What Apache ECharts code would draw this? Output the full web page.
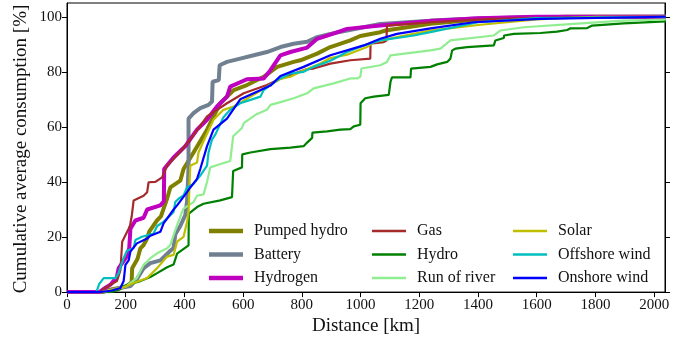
<!DOCTYPE html>
<html lang="en">
<head>
    <meta charset="UTF-8">
    <title>Cumulative average consumption</title>
    <script src="https://cdn.jsdelivr.net/npm/echarts@6/dist/echarts.min.js"></script>
    <style>
        html, body { margin: 0; padding: 0; background: #fff; }
        #main { width: 692px; height: 341px; }
    </style>
</head>
<body>
<div id="main"></div>
<script>
    // series names, in legend order (column by column)
    var names = ['Pumped hydro', 'Battery', 'Hydrogen', 'Gas', 'Hydro', 'Run of river', 'Solar', 'Offshore wind', 'Onshore wind'];

    // [distance km, cumulative %]
    var pumpedHydro = [[0,0],[120,0],[150,1],[200,2],[220,3.5],[222,8.7],[240,12],[250,15.9],[261,17.1],[273,19.5],[280,22],[307,26.1],[320,27.5],[341,34],[352,38],[386,40.5],[397,44.7],[431,50.7],[477,59],[522,68.6],[568,73.4],[613,75.2],[670,78.2],[716,81.8],[772,83.6],[795,84.2],[852,86.6],[897,89],[965,91.4],[999,93],[1067,94.4],[1085,95],[1238,97.5],[1400,99],[1700,100],[2040,100]];
    var battery = [[0,0],[110,0],[148,0.6],[180,1.5],[216,2.2],[240,5],[261,8.7],[284,10.5],[318,11.5],[352,15],[363,16],[369,21],[386,24],[403,28],[409,33],[414,45],[414,63],[431,65],[454,66.8],[482,68],[494,69.2],[496,76.4],[517,77],[520,82.4],[545,83.6],[590,84.8],[636,86],[681,87.2],[727,89],[772,90.2],[818,90.9],[852,92.6],[897,93.8],[954,95],[1067,97.4],[1238,98.6],[1400,99.4],[1600,99.9],[2040,100]];
    var hydrogen = [[0,0],[110,0],[130,1.5],[148,2.7],[170,5.5],[176,8.7],[204,13],[212,16],[216,23],[233,26],[261,27],[273,30],[318,31.5],[330,33],[331,44.7],[363,48.9],[403,53],[443,59],[477,62.6],[511,67.4],[545,71],[556,74.6],[613,77.3],[670,77.6],[693,80.6],[727,86],[761,87.2],[818,88.8],[852,92],[897,93.5],[954,95.6],[1067,96.8],[1238,98.5],[1400,99.5],[1600,100],[2040,100]];
    var gas = [[0,0],[110,0],[130,1.5],[148,2.7],[170,4],[182,8],[187,8.5],[188,18.3],[210,23],[215,24.3],[221,28],[227,33.3],[261,35],[273,36.3],[278,39.9],[301,40],[324,41.7],[341,45.9],[386,51],[420,55.4],[477,63.8],[545,68.6],[602,72.2],[681,75.2],[727,77.5],[761,78.8],[818,81],[840,81.2],[897,83],[965,84.2],[1033,84.8],[1034,90.2],[1079,90.8],[1088,91.4],[1090,96.8],[1238,98],[1442,99.2],[1700,99.8],[2040,100]];
    var hydro = [[0,0],[150,0],[180,1],[193,2.2],[250,4],[284,5.5],[307,6.9],[341,9],[363,10],[375,14],[414,17],[415,28.5],[443,30.9],[465,32.1],[522,33.3],[562,34.5],[566,44],[596,45.3],[597,50],[625,50.7],[693,51.9],[761,52.5],[806,53],[818,54.3],[835,56],[836,57.9],[886,58.4],[931,59],[965,59.2],[977,60.2],[999,60.8],[1000,68.6],[1016,70.4],[1045,71],[1096,71.6],[1102,76.4],[1107,78],[1170,78],[1172,81.2],[1238,81.8],[1261,82.7],[1295,83.6],[1306,84.8],[1312,87.8],[1323,88.4],[1363,89],[1368,89.3],[1454,89.6],[1459,91.4],[1488,92.3],[1489,93.2],[1522,93.8],[1613,94.1],[1669,94.6],[1704,95.2],[1715,95.8],[1772,95.9],[1789,96.8],[1896,97.6],[2040,98.3]];
    var runOfRiver = [[0,0],[120,0],[160,1],[200,2],[238,5.1],[261,9.9],[284,12.3],[307,14.1],[341,15.9],[352,17.1],[363,20.7],[375,24.3],[392,29.1],[397,30.3],[431,32.7],[443,35],[465,35.5],[477,40],[488,45.3],[523,46.5],[556,47.6],[562,48.3],[566,56.6],[596,59.6],[602,61.4],[642,64.4],[681,66.2],[693,68],[727,69],[772,70.4],[818,72.2],[840,74],[908,75.8],[965,77.6],[988,77.6],[999,78.2],[1003,81.2],[1067,82.4],[1090,83.6],[1102,86],[1238,87.8],[1272,88.4],[1306,91.4],[1454,93.2],[1476,95],[1556,96.2],[1726,97.4],[1896,98.6],[2040,99]];
    var solar = [[0,0],[120,0],[160,1],[200,2],[227,3.3],[273,5.1],[307,8.7],[341,12.9],[363,13.5],[375,18.3],[397,20.1],[409,25.5],[414,29],[418,41],[420,45.9],[443,47.1],[448,50.7],[465,54.8],[499,62.6],[533,66.2],[568,67.4],[625,71],[681,74.6],[727,77.4],[761,78.2],[795,80],[863,83],[897,85],[954,86.2],[1022,89],[1045,90.8],[1124,92.6],[1238,95],[1400,97],[1600,99],[1800,100],[2040,100]];
    var offshoreWind = [[0,0],[100,0],[110,3],[125,5.1],[165,5.1],[176,6.9],[182,9],[193,12.3],[204,15],[227,16],[233,18.9],[255,20.1],[295,21.3],[307,24],[329,25.5],[352,27.9],[363,29.1],[369,32.7],[380,33.9],[397,35.1],[409,38],[431,39.3],[454,42.3],[477,45.9],[482,50.7],[494,55.4],[505,57.2],[533,63.5],[556,66.2],[590,68.6],[625,69.8],[659,71],[670,73.4],[716,77],[761,79.4],[806,80],[840,81.8],[897,84],[954,87.2],[1011,89.6],[1067,91.4],[1181,93.2],[1238,94.4],[1400,98],[1600,99.5],[2040,100]];
    var onshoreWind = [[0,0],[110,0],[150,0.5],[182,1.5],[193,4],[199,9.9],[210,11.5],[216,14.7],[238,17.7],[273,19.5],[284,20.5],[318,21.9],[329,25],[341,26.7],[363,30],[375,31.5],[409,36.3],[420,38],[443,41.1],[454,44.7],[477,53],[499,59],[545,63],[590,70],[647,72.8],[693,75],[727,78.5],[806,81.8],[897,86],[1011,89.6],[1067,92],[1124,93.8],[1238,95.8],[1385,98],[1613,99.2],[2040,100]];

    var xTicks = [0, 200, 400, 600, 800, 1000, 1200, 1400, 1600, 1800, 2000];
    var yTicks = [0, 20, 40, 60, 80, 100];

    var seriesData = [pumpedHydro, battery, hydrogen, gas, hydro, runOfRiver, solar, offshoreWind, onshoreWind];
    var colors = ['#808000', '#708090', '#bf00bf', '#a52a2a', '#008000', '#90ee90', '#bfbf00', '#00bfbf', '#0000ff'];
    var widths = [4, 4, 4, 2.2, 2.2, 2.2, 2.2, 2.2, 2.2];

    var font = "'Liberation Serif', 'DejaVu Serif', serif";
    var ink = '#111';

    var series = names.map(function (n, i) {
        return {
            name: n,
            type: 'line',
            data: seriesData[i],
            symbol: 'none',
            showSymbol: false,
            color: colors[i],
            lineStyle: {color: colors[i], width: widths[i]},
            z: 2 + i
        };
    });

    // one legend column; the line sample is drawn as a thin rect
    function legendCol(items, left, h) {
        return {
            data: items.map(function (n) { return {name: n, icon: 'rect'}; }),
            orient: 'vertical',
            left: left,
            top: 223,
            padding: 0,
            itemWidth: 34,
            itemHeight: h,
            itemGap: 7.5,
            textStyle: {fontFamily: font, fontSize: 16, lineHeight: 16, color: ink, padding: [0, 0, 0, 6]}
        };
    }

    var myChart = echarts.init(document.getElementById('main'));
    var option = {
        animation: false,
        backgroundColor: '#fff',
        grid: {left: 67, right: 27, top: 3, bottom: 47, show: true, borderColor: '#000', borderWidth: 1},
        legend: [
            legendCol(names.slice(0, 3), 209, 4.5),
            legendCol(names.slice(3, 6), 372, 2.5),
            legendCol(names.slice(6, 9), 513, 2.5)
        ],
        // y title drawn by hand so it can sit closer to the tick labels
        graphic: [{
            type: 'text',
            x: 21,
            y: 149,
            rotation: Math.PI / 2,
            style: {
                text: 'Cumulative average consumption [%]',
                fontFamily: font, fontSize: 19, fill: ink,
                align: 'center', verticalAlign: 'middle'
            }
        }],
        xAxis: {
            type: 'value',
            min: 0,
            max: 2037,
            name: 'Distance [km]',
            nameLocation: 'middle',
            nameGap: 24,
            nameTextStyle: {fontFamily: font, fontSize: 19, color: ink},
            axisLine: {onZero: false, lineStyle: {color: '#000', width: 1}},
            axisTick: {inside: false, length: 5, customValues: xTicks, lineStyle: {color: '#000'}},
            axisLabel: {
                customValues: xTicks, margin: 5, fontFamily: font, fontSize: 15, color: ink,
                formatter: function (v) { return String(v); }
            },
            splitLine: {show: false}
        },
        yAxis: [{
            type: 'value',
            min: 0,
            max: 105,
            axisLine: {show: true, onZero: false, lineStyle: {color: '#000', width: 1}},
            axisTick: {show: true, inside: false, length: 5, customValues: yTicks, lineStyle: {color: '#000'}},
            axisLabel: {customValues: yTicks, margin: 5, fontFamily: font, fontSize: 15, color: ink},
            splitLine: {show: false}
        }, {
            type: 'value',
            min: 0,
            max: 105,
            position: 'right',
            axisLine: {show: true, onZero: false, lineStyle: {color: '#000', width: 1}},
            axisTick: {show: true, inside: false, length: 5, customValues: yTicks, lineStyle: {color: '#000'}},
            axisLabel: {show: false},
            splitLine: {show: false}
        }],
        series: series
    };
    myChart.setOption(option);
</script>
</body>
</html>
